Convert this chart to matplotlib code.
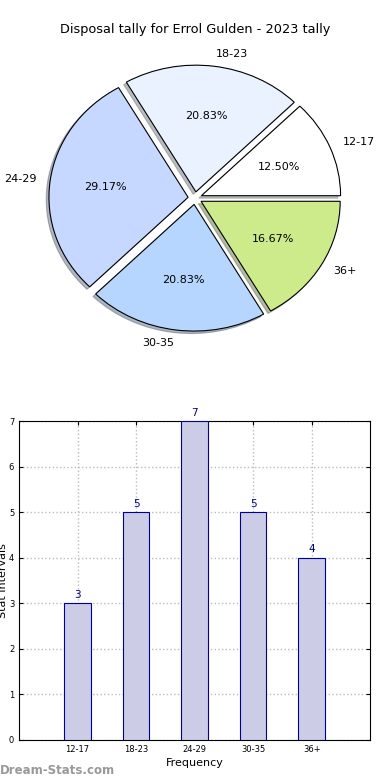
import matplotlib
matplotlib.use("Agg")
import matplotlib.pyplot as plt

# data
labels = ["12-17", "18-23", "24-29", "30-35", "36+"]
counts = [3, 5, 7, 5, 4]
pie_colors = ["#ffffff", "#eaf1ff", "#c6d8ff", "#b6d6ff", "#cdeb8b"]
title = "Disposal tally for Errol Gulden - 2023 tally"

fig = plt.figure(figsize=(3.9, 7.8), dpi=100)

# pie
ax1 = fig.add_axes([0.054, 0.543, 0.892, 0.406])
wedges, texts, autotexts = ax1.pie(
    counts, labels=labels, colors=pie_colors, autopct="%1.2f%%",
    explode=[0.05] * len(counts),
    shadow={"ox": -0.014, "oy": -0.014, "shade": 0.5},
    startangle=0,
    wedgeprops=dict(edgecolor="black", linewidth=0.8),
    textprops=dict(fontsize=8))
ax1.set_aspect("auto")
ax1.set_xlim(-1.25, 1.25)
ax1.set_ylim(-1.25, 1.25)
fig.text(0.5, 1 - 30 / 780, title, ha="center", va="center", fontsize=9.3)

# bars
ax2 = fig.add_axes([0.049, 0.0513, 0.9, 0.4087])
x = list(range(len(labels)))
ax2.bar(x, counts, width=0.45, color="#ccccE6", edgecolor="#000099", linewidth=0.8, zorder=3)
for xi, c in zip(x, counts):
    ax2.text(xi, c + 0.08, str(c), ha="center", va="bottom", fontsize=7.5, color="#000080")
ax2.set_xlim(-1, 5)
ax2.set_ylim(0, 7)
ax2.set_xticks(x)
ax2.set_xticklabels(labels)
ax2.tick_params(labelsize=6, direction="in", top=True, right=True, length=3)
ax2.grid(True, linestyle=":", color="#bbbbbb", linewidth=1)
ax2.set_xlabel("Frequency", fontsize=8, labelpad=3)
ax2.set_ylabel("Stat Intervals", fontsize=8)
ax2.yaxis.set_label_coords(-0.033, 0.5)

fig.text(0.0, 1 - 771 / 780, "Dream-Stats.com", ha="left", va="center",
         fontsize=8.5, color="#999999", fontweight="bold")

plt.savefig("out.png", dpi=100)
